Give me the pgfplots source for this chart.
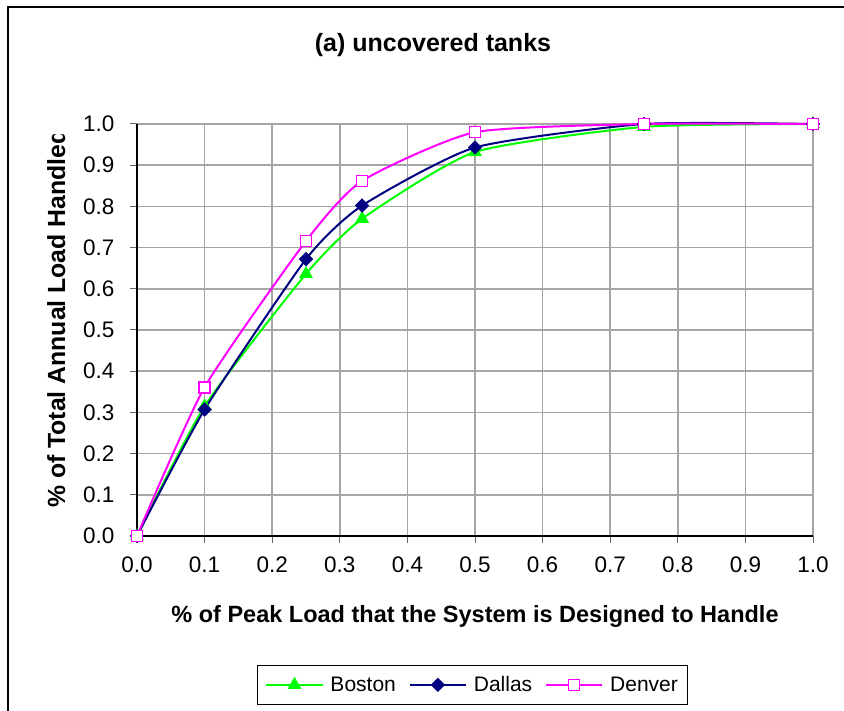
\documentclass[border=0pt]{standalone}
\usepackage{fontspec}
\setmainfont{Liberation Sans}
\usepackage{pgfplots}
\pgfplotsset{compat=1.18}
\definecolor{bos}{RGB}{0,255,0}
\definecolor{dal}{RGB}{0,0,128}
\definecolor{den}{RGB}{255,0,255}
\definecolor{gridc}{RGB}{165,165,165}
\begin{document}
\begin{tikzpicture}[x=1pt,y=1pt]
\useasboundingbox (0,0) rectangle (844,711);
\draw[line width=1.2pt] (8,0) -- (8,704) -- (844,704);
\begin{axis}[
  at={(137pt,175pt)}, anchor=south west, scale only axis,
  width=676pt, height=412pt,
  xmin=0, xmax=1, ymin=0, ymax=1,
  xtick={0,0.1,0.2,0.3,0.4,0.5,0.6,0.7,0.8,0.9,1.0},
  xticklabels={0.0,0.1,0.2,0.3,0.4,0.5,0.6,0.7,0.8,0.9,1.0},
  ytick={0,0.1,0.2,0.3,0.4,0.5,0.6,0.7,0.8,0.9,1.0},
  yticklabels={0.0,0.1,0.2,0.3,0.4,0.5,0.6,0.7,0.8,0.9,1.0},
  axis x line=bottom, axis y line=left,
  axis line style={-, line width=1.3pt, black},
  tick align=outside, major tick length=7pt,
  tick style={line width=1pt, color=black!60},
  grid=major, major grid style={gridc, line width=1.5pt},
  ticklabel style={font=\fontsize{22.5}{27}\selectfont},
  xticklabel style={yshift=-10pt},
  yticklabel style={xshift=-12pt},
  /pgf/number format/assume math mode=true,
  clip=false,
  legend style={at={(axis description cs:0.1775,-0.3131)}, anchor=north west,
    legend columns=3, draw=black, line width=1pt,
    font=\fontsize{21}{25}\selectfont, inner xsep=8pt, inner ysep=9pt,
    /tikz/every odd column/.append style={column sep=5pt},
    /tikz/every even column/.append style={column sep=11pt}},
  legend image code/.code={\draw[mark repeat=2,mark phase=2] plot coordinates {(0pt,0pt) (28pt,0pt) (56pt,0pt)};},
]
\addplot[bos, line width=2pt, smooth, tension=0.35, mark=triangle*, mark size=7pt,
  mark options={solid, fill=bos, line width=1pt}]
  coordinates {(0,0) (0.1,0.315) (0.25,0.636) (0.333,0.770) (0.5,0.932) (0.75,0.993) (1,1)};
\addlegendentry{Boston}
\addplot[dal, line width=2pt, smooth, tension=0.35, mark=diamond*, mark size=6.5pt,
  mark options={solid, fill=dal, line width=1pt, xscale=1.33}]
  coordinates {(0,0) (0.1,0.307) (0.25,0.672) (0.333,0.802) (0.5,0.943) (0.75,1.0) (1,1)};
\addlegendentry{Dallas}
\addplot[den, line width=2pt, smooth, tension=0.35, mark=square*, mark size=5.5pt,
  mark options={solid, fill=white, draw=den, line width=1.5pt}]
  coordinates {(0,0) (0.1,0.361) (0.25,0.716) (0.333,0.862) (0.5,0.980) (0.75,1.0) (1,1)};
\addlegendentry{Denver}
\end{axis}
\node[anchor=base, font=\bfseries\fontsize{25}{30}\selectfont] at (433,659) {(a) uncovered tanks};
\node[anchor=base, font=\bfseries\fontsize{23.5}{28}\selectfont] at (475,88) {\% of Peak Load that the System is Designed to Handle};
\begin{scope}
\clip (20,200) rectangle (100,576);
\node[rotate=90, anchor=base west, inner sep=0pt, font=\bfseries\fontsize{24.8}{29}\selectfont] at (65,203) {\% of Total Annual Load Handled};
\end{scope}
\end{tikzpicture}
\end{document}
